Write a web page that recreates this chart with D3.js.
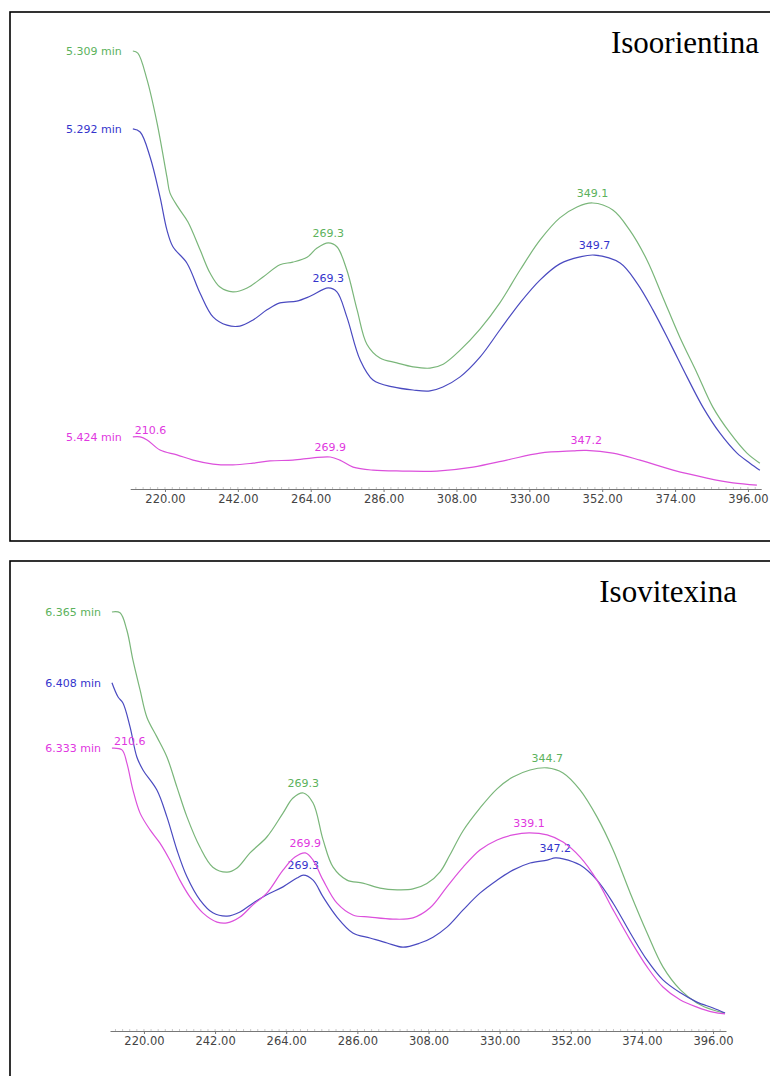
<!DOCTYPE html>
<meta charset="utf-8">
<style>
body { margin: 0; background: #fff; }
svg { display: block; }
.lbl { font: 11px "DejaVu Sans", sans-serif; }
.title { font: 31px "Liberation Serif", "Times New Roman", serif; fill: #000; }
.axis text { font: 11.5px "DejaVu Sans", sans-serif; fill: #444; }
.axis path, .axis line { stroke: #777; }
</style>
<svg width="770" height="1076"></svg>
<script src="https://d3js.org/d3.v7.min.js"></script>
<script>

// wavelength axis (nm)
let tickWl = [220, 242, 264, 286, 308, 330, 352, 374, 396];

// Isoorientina, [wavelength, relative absorbance]
let iso5309 = [[210.3,1.000],[211.8,0.995],[214.6,0.934],[217.6,0.836],[220.6,0.712],[221.5,0.676],[223.9,0.644],[226.9,0.610],[230.6,0.546],[233.6,0.493],[236.6,0.461],[240.5,0.450],[244.8,0.459],[249.6,0.484],[254.7,0.512],[258.6,0.518],[262.9,0.529],[265.9,0.550],[269.3,0.562],[271.9,0.553],[274.9,0.500],[278.0,0.409],[281.0,0.330],[284.9,0.299],[290.0,0.288],[294.9,0.279],[300.0,0.276],[304.0,0.285],[309.1,0.317],[315.1,0.365],[321.1,0.425],[327.2,0.500],[333.2,0.568],[339.2,0.619],[344.4,0.644],[349.1,0.653],[355.2,0.637],[360.3,0.591],[365.5,0.523],[370.3,0.438],[375.4,0.347],[380.6,0.265],[385.4,0.187],[390.6,0.128],[395.7,0.082],[399.6,0.059]];
let iso5292 = [[210.3,0.822],[212.5,0.815],[215.5,0.758],[218.5,0.667],[220.6,0.591],[222.4,0.553],[226.6,0.516],[230.6,0.447],[234.5,0.393],[238.7,0.374],[242.6,0.372],[246.6,0.386],[250.8,0.409],[254.7,0.425],[259.8,0.429],[263.8,0.440],[269.3,0.459],[271.9,0.450],[274.9,0.393],[278.9,0.295],[282.8,0.249],[288.8,0.233],[294.9,0.226],[300.0,0.224],[303.9,0.233],[309.1,0.256],[315.1,0.301],[321.1,0.363],[327.2,0.425],[333.2,0.477],[339.2,0.514],[345.3,0.530],[349.7,0.534],[357.4,0.516],[362.5,0.470],[367.3,0.409],[372.5,0.333],[377.6,0.256],[382.4,0.187],[387.5,0.128],[392.7,0.082],[396.6,0.059],[399.6,0.043]];
let iso5424 = [[210.3,0.119],[212.5,0.119],[214.6,0.112],[218.5,0.089],[223.6,0.078],[228.5,0.066],[234.5,0.057],[240.5,0.055],[246.6,0.059],[251.7,0.064],[258.6,0.066],[264.7,0.071],[269.9,0.073],[272.8,0.066],[276.8,0.050],[282.8,0.043],[291.8,0.041],[302.1,0.041],[313.0,0.050],[323.2,0.066],[333.2,0.082],[343.2,0.087],[347.2,0.088],[355.2,0.082],[363.4,0.066],[373.4,0.043],[383.6,0.025],[391.5,0.014],[398.7,0.009]];

// Isovitexina
let vit6365 = [[210.1,1.000],[212.6,0.998],[214.7,0.957],[216.6,0.885],[218.8,0.814],[220.9,0.749],[224.0,0.702],[227.1,0.654],[230.2,0.582],[233.3,0.511],[237.3,0.439],[241.3,0.391],[245.7,0.379],[248.8,0.389],[252.8,0.425],[258.0,0.463],[263.0,0.520],[266.1,0.556],[269.3,0.568],[272.3,0.544],[275.4,0.456],[278.5,0.391],[282.8,0.360],[287.7,0.353],[293.0,0.341],[298.3,0.337],[303.2,0.339],[307.5,0.352],[311.6,0.380],[314.6,0.420],[318.7,0.478],[323.9,0.532],[329.2,0.578],[334.1,0.606],[339.4,0.623],[344.7,0.628],[349.6,0.616],[354.9,0.575],[360.1,0.511],[365.1,0.432],[370.4,0.329],[375.6,0.234],[380.5,0.153],[385.9,0.098],[391.0,0.067],[396.0,0.050],[399.7,0.043]];
let vit6408 = [[210.1,0.831],[212.0,0.797],[213.5,0.783],[215.7,0.726],[217.8,0.654],[219.7,0.623],[224.0,0.575],[227.1,0.511],[230.2,0.432],[233.3,0.368],[237.3,0.313],[241.3,0.282],[245.7,0.274],[249.7,0.284],[253.7,0.305],[258.0,0.325],[263.0,0.344],[267.3,0.365],[269.3,0.372],[272.3,0.360],[275.4,0.320],[279.7,0.272],[284.6,0.234],[289.9,0.222],[295.2,0.210],[300.1,0.200],[305.4,0.210],[309.4,0.224],[313.7,0.248],[318.7,0.289],[323.9,0.329],[329.2,0.360],[334.1,0.384],[339.4,0.401],[344.7,0.408],[347.2,0.413],[349.6,0.411],[354.9,0.396],[360.1,0.360],[365.1,0.305],[370.4,0.234],[375.6,0.169],[380.5,0.122],[385.9,0.091],[391.0,0.069],[396.0,0.055],[399.7,0.043]];
let vit6333 = [[210.1,0.675],[213.2,0.671],[214.7,0.640],[216.6,0.575],[218.8,0.520],[221.9,0.480],[224.9,0.449],[228.0,0.408],[231.1,0.360],[234.2,0.320],[238.2,0.282],[242.6,0.260],[245.7,0.258],[249.7,0.272],[253.7,0.301],[258.0,0.329],[263.0,0.384],[266.7,0.415],[269.9,0.425],[272.3,0.408],[275.4,0.360],[279.7,0.305],[284.6,0.277],[289.9,0.272],[297.0,0.267],[303.2,0.270],[308.5,0.294],[313.7,0.344],[318.7,0.391],[323.9,0.432],[329.2,0.456],[334.1,0.468],[339.1,0.473],[344.7,0.468],[349.6,0.451],[354.9,0.415],[360.1,0.360],[365.1,0.289],[370.4,0.217],[375.6,0.153],[380.5,0.105],[385.9,0.074],[391.0,0.057],[396.0,0.045],[399.7,0.041]];

let green = '#7ab67a', blue = '#4a4ac0', magenta = '#dc50dc';
let greenText = '#5cb25c', blueText = '#3434cc', magentaText = '#e038e0';

let panels = [
  { title: 'Isoorientina', top: 12, height: 529, x0: 130.2, x1: 761.2, yAxis: 489, yTop: 51, titleX: 759, titleY: 53,
    series: [
      { name: '5.309 min', data: iso5309, color: green, text: greenText, peaks: [269.3, 349.1] },
      { name: '5.292 min', data: iso5292, color: blue, text: blueText, peaks: [269.3, 349.7] },
      { name: '5.424 min', data: iso5424, color: magenta, text: magentaText, peaks: [269.9, 347.2], first: '210.6' }
    ] },
  { title: 'Isovitexina', top: 561, height: 540, x0: 110, x1: 726, yAxis: 1031, yTop: 612, titleX: 737, titleY: 602,
    series: [
      { name: '6.365 min', data: vit6365, color: green, text: greenText, peaks: [269.3, 344.7] },
      { name: '6.408 min', data: vit6408, color: blue, text: blueText, peaks: [269.3, 347.2] },
      { name: '6.333 min', data: vit6333, color: magenta, text: magentaText, peaks: [269.9, 339.1], first: '210.6' }
    ] }
];

let svg = d3.select('svg');

let interp = (data, wl) => {
  let i = d3.bisector(d => d[0]).left(data, wl);
  if (i <= 0) return data[0][1];
  if (i >= data.length) return data[data.length - 1][1];
  let a = data[i - 1], b = data[i];
  return a[1] + (b[1] - a[1]) * (wl - a[0]) / (b[0] - a[0]);
};

panels.forEach(p => {
  // frame runs off the right edge
  svg.append('rect')
      .attr('x', 10).attr('y', p.top)
      .attr('width', 800).attr('height', p.height)
      .attr('fill', 'none').attr('stroke', '#000').attr('stroke-width', 1.6);

  svg.append('text').attr('class', 'title')
      .attr('x', p.titleX).attr('y', p.titleY)
      .attr('text-anchor', 'end')
      .text(p.title);

  let x = d3.scaleLinear().domain([209.5, 400]).range([p.x0, p.x1]);
  let y = d3.scaleLinear().domain([0, 1]).range([p.yAxis, p.yTop]);

  // minor ticks
  svg.append('g')
      .selectAll('line')
      .data(d3.range(211.2, 400, 2.2))
      .join('line')
      .attr('x1', d => x(d)).attr('x2', d => x(d))
      .attr('y1', p.yAxis).attr('y2', p.yAxis - 2)
      .attr('stroke', '#bbb').attr('stroke-width', 0.8);

  let axis = svg.append('g').attr('class', 'axis')
      .attr('transform', 'translate(0,' + p.yAxis + ')')
      .call(d3.axisBottom(x).tickValues(tickWl).tickFormat(d3.format('.2f')).tickSize(3).tickSizeOuter(0));
  axis.select('.domain').attr('stroke-width', 1.2);

  let line = d3.line()
      .x(d => x(d[0]))
      .y(d => y(d[1]))
      .curve(d3.curveCatmullRom.alpha(0.5));

  p.series.forEach(s => {
    svg.append('path')
        .datum(s.data)
        .attr('d', line)
        .attr('fill', 'none')
        .attr('stroke', s.color)
        .attr('stroke-width', 1.2);

    let start = s.data[0];
    svg.append('text').attr('class', 'lbl')
        .attr('x', x(start[0]) - 11).attr('y', y(start[1]))
        .attr('dy', '0.35em')
        .attr('text-anchor', 'end')
        .attr('fill', s.text)
        .text(s.name);

    if (s.first) {
      svg.append('text').attr('class', 'lbl')
          .attr('x', x(start[0]) + 2).attr('y', y(start[1]) - 3)
          .attr('fill', s.text)
          .text(s.first);
    }

    s.peaks.forEach(wl => {
      svg.append('text').attr('class', 'lbl')
          .attr('x', x(wl)).attr('y', y(interp(s.data, wl)) - 6)
          .attr('text-anchor', 'middle')
          .attr('fill', s.text)
          .text(wl.toFixed(1));
    });
  });
});

</script>
